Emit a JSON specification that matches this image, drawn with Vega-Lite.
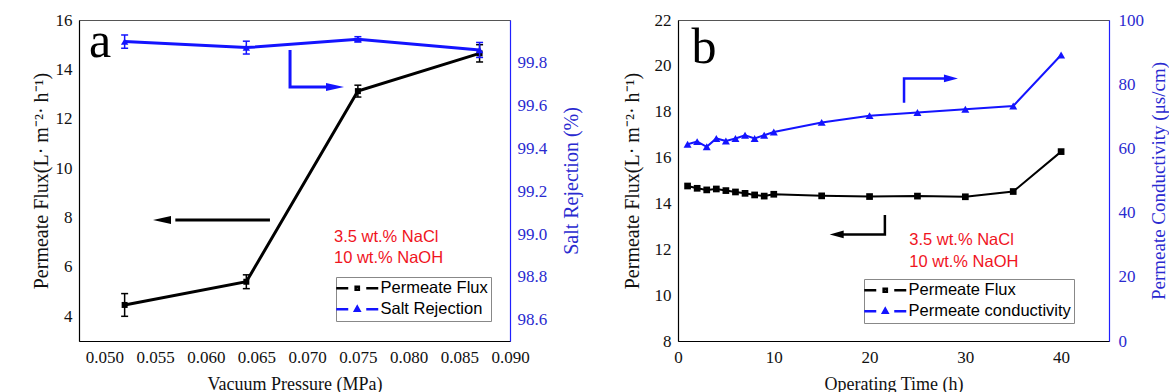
{
  "$schema": "https://vega.github.io/schema/vega-lite/v6.json",
  "padding": {"left": 30, "top": 10, "right": 0, "bottom": 0},
  "bounds": "flush",
  "spacing": 168,
  "background": "white",
  "config": {
    "view": {"stroke": "#555", "strokeWidth": 1},
    "axis": {"grid": false, "labelFont": "Liberation Serif", "titleFont": "Liberation Serif", "labelFontSize": 17, "titleFontSize": 20, "titleFontWeight": "normal", "labelColor": "#111", "titleColor": "#111", "domainColor": "#000", "tickColor": "#000", "domainWidth": 1.2, "tickWidth": 1.2, "tickSize": 0, "labelPadding": 7, "labelOverlap": false, "labelFlush": false},
    "legend": {"orient": "none", "labelFont": "Liberation Sans", "labelFontSize": 16.5, "labelColor": "#000", "strokeColor": "#888", "fillColor": "white", "padding": 3, "rowPadding": 4, "symbolSize": 64, "symbolOffset": 10, "labelOffset": 15, "labelLimit": 400, "symbolStrokeWidth": 2.5, "symbolOpacity": 1}
  },
  "datasets": {
    "a_flux": [{"p": 0.052, "flux": 4.46, "lo": 4.0, "hi": 4.92}, {"p": 0.064, "flux": 5.4, "lo": 5.12, "hi": 5.68}, {"p": 0.075, "flux": 13.12, "lo": 12.88, "hi": 13.36}, {"p": 0.087, "flux": 14.65, "lo": 14.3, "hi": 15.0}],
    "a_rej": [{"p": 0.052, "rej": 99.899, "lo": 99.868, "hi": 99.93}, {"p": 0.064, "rej": 99.871, "lo": 99.841, "hi": 99.901}, {"p": 0.075, "rej": 99.91, "lo": 99.898, "hi": 99.922}, {"p": 0.087, "rej": 99.86, "lo": 99.825, "hi": 99.895}],
    "a_arrow_black": [{"p": 0.06633, "flux": 7.9, "i": 0}, {"p": 0.057, "flux": 7.9, "i": 1}],
    "a_head_black": [{"p": 0.0548, "flux": 7.9}],
    "a_arrow_blue": [{"p": 0.06831, "rej": 99.86, "i": 0}, {"p": 0.06831, "rej": 99.687, "i": 1}, {"p": 0.072, "rej": 99.687, "i": 2}],
    "a_head_blue": [{"p": 0.07363, "rej": 99.687}],
    "a_letter": [{"p": 0.04848, "flux": 14.5, "label": "a"}],
    "a_note": [{"p": 0.07264, "flux": 7.21, "label": "3.5 wt.% NaCl"}, {"p": 0.07264, "flux": 6.36, "label": "10 wt.% NaOH"}],
    "b_run": [
      {"t": 1, "flux": 14.76, "cond": 61.3}, {"t": 2, "flux": 14.66, "cond": 62.1}, {"t": 3, "flux": 14.59, "cond": 60.5},
      {"t": 4, "flux": 14.63, "cond": 63.1}, {"t": 5, "flux": 14.56, "cond": 62.3}, {"t": 6, "flux": 14.5, "cond": 63.1},
      {"t": 7, "flux": 14.44, "cond": 64.1}, {"t": 8, "flux": 14.37, "cond": 63.1}, {"t": 9, "flux": 14.32, "cond": 64.1},
      {"t": 10, "flux": 14.4, "cond": 65.1}, {"t": 15, "flux": 14.33, "cond": 68.1}, {"t": 20, "flux": 14.3, "cond": 70.2},
      {"t": 25, "flux": 14.32, "cond": 71.2}, {"t": 30, "flux": 14.29, "cond": 72.2}, {"t": 35, "flux": 14.52, "cond": 73.2},
      {"t": 40, "flux": 16.26, "cond": 89.1}
    ],
    "b_arrow_black": [{"t": 21.6, "flux": 13.5, "i": 0}, {"t": 21.6, "flux": 12.65, "i": 1}, {"t": 17.0, "flux": 12.65, "i": 2}],
    "b_head_black": [{"t": 15.84, "flux": 12.65}],
    "b_arrow_blue": [{"t": 23.6, "cond": 74.2, "i": 0}, {"t": 23.6, "cond": 81.8, "i": 1}, {"t": 28.0, "cond": 81.8, "i": 2}],
    "b_head_blue": [{"t": 29.23, "cond": 81.8}],
    "b_letter": [{"t": 1.41, "flux": 20.11, "label": "b"}],
    "b_note": [{"t": 24.15, "flux": 12.41, "label": "3.5 wt.% NaCl"}, {"t": 24.15, "flux": 11.46, "label": "10 wt.% NaOH"}]
  },
  "hconcat": [
    {
      "width": 431,
      "height": 321,
      "encoding": {
        "x": {"field": "p", "type": "quantitative", "scale": {"domain": [0.0475, 0.09], "nice": false, "zero": false},
          "axis": {"title": "Vacuum Pressure (MPa)", "titleFontSize": 18, "values": [0.05, 0.0525, 0.055, 0.0575, 0.06, 0.0625, 0.065, 0.0675, 0.07, 0.0725, 0.075, 0.0775, 0.08, 0.0825, 0.085, 0.0875, 0.09], "format": ".3f",
            "labelExpr": "round(datum.value*1000) % 5 === 0 ? datum.label : ''",
            "encode": {"ticks": {"y2": {"condition": {"test": "round(datum.value*1000) % 5 === 0", "value": -5}, "value": -3}}},
            "labelPadding": 8, "titleY": 48, "titleBaseline": "alphabetic"}}
      },
      "layer": [
        {
          "encoding": {"y": {"field": "flux", "type": "quantitative", "scale": {"domain": [3, 16], "nice": false, "zero": false},
            "axis": {"orient": "left", "title": "Permeate Flux(L· m⁻²· h⁻¹)", "values": [4, 5, 6, 7, 8, 9, 10, 11, 12, 13, 14, 15, 16],
              "labelExpr": "datum.value % 2 === 0 ? datum.label : ''",
              "encode": {"ticks": {"x2": {"condition": {"test": "datum.value % 2 === 0", "value": 5}, "value": 3}}},
              "titleAngle": -90, "titleX": -32, "titleY": 160.5, "titleAlign": "center", "titleBaseline": "alphabetic"}}},
          "layer": [
            {"data": {"name": "a_flux"}, "mark": {"type": "rule", "color": "#000", "strokeWidth": 1.5}, "encoding": {"y": {"field": "lo", "type": "quantitative"}, "y2": {"field": "hi"}}},
            {"data": {"name": "a_flux"}, "mark": {"type": "tick", "orient": "horizontal", "color": "#000", "size": 7, "thickness": 1.5, "opacity": 1}, "encoding": {"y": {"field": "lo", "type": "quantitative"}}},
            {"data": {"name": "a_flux"}, "mark": {"type": "tick", "orient": "horizontal", "color": "#000", "size": 7, "thickness": 1.5, "opacity": 1}, "encoding": {"y": {"field": "hi", "type": "quantitative"}}},
            {"data": {"name": "a_flux"}, "mark": {"type": "line", "strokeWidth": 3, "color": "#000"}},
            {"data": {"name": "a_flux"}, "mark": {"type": "point", "shape": "square", "filled": true, "size": 36, "color": "#000", "opacity": 1}},
            {"data": {"name": "a_arrow_black"}, "mark": {"type": "line", "strokeWidth": 3, "color": "#000", "strokeCap": "butt", "strokeJoin": "miter"}, "encoding": {"order": {"field": "i"}}},
            {"data": {"name": "a_head_black"}, "mark": {"type": "point", "shape": "M0,0L2,-0.45L2,0.45Z", "size": 324, "filled": true, "color": "#000", "opacity": 1}},
            {"data": {"name": "a_letter"}, "mark": {"type": "text", "font": "Liberation Serif", "fontSize": 50, "align": "left", "baseline": "alphabetic", "color": "#000"}, "encoding": {"text": {"field": "label"}}},
            {"data": {"name": "a_note"}, "mark": {"type": "text", "font": "Liberation Sans", "fontSize": 16.5, "align": "left", "baseline": "middle", "color": "#f0141e"}, "encoding": {"text": {"field": "label"}}},
            {"data": {"values": []}, "mark": {"type": "point", "filled": false, "strokeWidth": 2.5, "opacity": 1},
              "encoding": {
                "color": {"field": "series", "type": "nominal", "scale": {"domain": ["Permeate Flux", "Salt Rejection"], "range": ["#000000", "#1414ff"]},
                  "legend": {"title": null, "orient": "none", "legendX": 257, "legendY": 257}},
                "shape": {"field": "series", "type": "nominal", "scale": {"domain": ["Permeate Flux", "Salt Rejection"], "range": ["M-5.25,0H-2.25M2.25,0H5.25M-0.4,-0.4H0.4V0.4H-0.4Z", "M-5.25,0H-2.25M2.25,0H5.25M0,-0.6L0.55,0.4H-0.55Z"]},
                  "legend": {"title": null, "orient": "none", "legendX": 257, "legendY": 257}}}}
          ]
        },
        {
          "encoding": {"y": {"field": "rej", "type": "quantitative", "scale": {"domain": [98.5, 100], "nice": false, "zero": false},
            "axis": {"orient": "right", "title": "Salt Rejection (%)", "values": [98.6, 98.7, 98.8, 98.9, 99.0, 99.1, 99.2, 99.3, 99.4, 99.5, 99.6, 99.7, 99.8, 99.9], "format": ".1f",
              "labelExpr": "round(datum.value*10) % 2 === 0 ? datum.label : ''",
              "encode": {"ticks": {"x2": {"condition": {"test": "round(datum.value*10) % 2 === 0", "value": -5}, "value": -3}}},
              "domainColor": "#2020ff", "tickColor": "#2020ff", "labelColor": "#2a2ad0", "titleColor": "#2a2ad0",
              "titleAngle": -90, "titleX": 67, "titleY": 160.5, "titleAlign": "center", "titleBaseline": "alphabetic"}}},
          "layer": [
            {"data": {"name": "a_rej"}, "mark": {"type": "rule", "color": "#1414ff", "strokeWidth": 1.5}, "encoding": {"y": {"field": "lo", "type": "quantitative"}, "y2": {"field": "hi"}}},
            {"data": {"name": "a_rej"}, "mark": {"type": "tick", "orient": "horizontal", "color": "#1414ff", "size": 7, "thickness": 1.5, "opacity": 1}, "encoding": {"y": {"field": "lo", "type": "quantitative"}}},
            {"data": {"name": "a_rej"}, "mark": {"type": "tick", "orient": "horizontal", "color": "#1414ff", "size": 7, "thickness": 1.5, "opacity": 1}, "encoding": {"y": {"field": "hi", "type": "quantitative"}}},
            {"data": {"name": "a_rej"}, "mark": {"type": "line", "strokeWidth": 3, "color": "#1414ff"}},
            {"data": {"name": "a_rej"}, "mark": {"type": "point", "shape": "triangle-up", "filled": true, "size": 55, "color": "#1414ff", "opacity": 1}},
            {"data": {"name": "a_arrow_blue"}, "mark": {"type": "line", "strokeWidth": 3, "color": "#1414ff", "strokeCap": "butt", "strokeJoin": "miter"}, "encoding": {"order": {"field": "i"}}},
            {"data": {"name": "a_head_blue"}, "mark": {"type": "point", "shape": "M0,0L-2,-0.45L-2,0.45Z", "size": 324, "filled": true, "color": "#1414ff", "opacity": 1}}
          ]
        }
      ],
      "resolve": {"scale": {"y": "independent"}}
    },
    {
      "width": 431,
      "height": 321,
      "encoding": {
        "x": {"field": "t", "type": "quantitative", "scale": {"domain": [0, 45], "nice": false, "zero": false},
          "axis": {"title": "Operating Time (h)", "titleFontSize": 18, "values": [0, 5, 10, 15, 20, 25, 30, 35, 40],
            "labelExpr": "datum.value % 10 === 0 ? datum.label : ''",
            "encode": {"ticks": {"y2": {"condition": {"test": "datum.value % 10 === 0", "value": -5}, "value": -3}}},
            "labelPadding": 8, "titleY": 48, "titleBaseline": "alphabetic"}}
      },
      "layer": [
        {
          "encoding": {"y": {"field": "flux", "type": "quantitative", "scale": {"domain": [8, 22], "nice": false, "zero": false},
            "axis": {"orient": "left", "title": "Permeate Flux(L· m⁻²· h⁻¹)", "values": [8, 9, 10, 11, 12, 13, 14, 15, 16, 17, 18, 19, 20, 21, 22],
              "labelExpr": "datum.value % 2 === 0 ? datum.label : ''",
              "encode": {"ticks": {"x2": {"condition": {"test": "datum.value % 2 === 0", "value": 5}, "value": 3}}},
              "titleAngle": -90, "titleX": -40, "titleY": 160.5, "titleAlign": "center", "titleBaseline": "alphabetic"}}},
          "layer": [
            {"data": {"name": "b_run"}, "mark": {"type": "line", "strokeWidth": 2, "color": "#000"}},
            {"data": {"name": "b_run"}, "mark": {"type": "point", "shape": "square", "filled": true, "size": 45, "color": "#000", "opacity": 1}},
            {"data": {"name": "b_arrow_black"}, "mark": {"type": "line", "strokeWidth": 2.5, "color": "#000", "strokeCap": "butt", "strokeJoin": "miter"}, "encoding": {"order": {"field": "i"}}},
            {"data": {"name": "b_head_black"}, "mark": {"type": "point", "shape": "M0,0L2,-0.56L2,0.56Z", "size": 196, "filled": true, "color": "#000", "opacity": 1}},
            {"data": {"name": "b_letter"}, "mark": {"type": "text", "font": "Liberation Serif", "fontSize": 50, "align": "left", "baseline": "alphabetic", "color": "#000"}, "encoding": {"text": {"field": "label"}}},
            {"data": {"name": "b_note"}, "mark": {"type": "text", "font": "Liberation Sans", "fontSize": 16.5, "align": "left", "baseline": "middle", "color": "#f0141e"}, "encoding": {"text": {"field": "label"}}},
            {"data": {"values": []}, "mark": {"type": "point", "filled": false, "strokeWidth": 2.5, "opacity": 1},
              "encoding": {
                "color": {"field": "series", "type": "nominal", "scale": {"domain": ["Permeate Flux", "Permeate conductivity"], "range": ["#000000", "#1414ff"]},
                  "legend": {"title": null, "orient": "none", "legendX": 186, "legendY": 259}},
                "shape": {"field": "series", "type": "nominal", "scale": {"domain": ["Permeate Flux", "Permeate conductivity"], "range": ["M-5.25,0H-2.25M2.25,0H5.25M-0.4,-0.4H0.4V0.4H-0.4Z", "M-5.25,0H-2.25M2.25,0H5.25M0,-0.6L0.55,0.4H-0.55Z"]},
                  "legend": {"title": null, "orient": "none", "legendX": 186, "legendY": 259}}}}
          ]
        },
        {
          "encoding": {"y": {"field": "cond", "type": "quantitative", "scale": {"domain": [0, 100], "nice": false, "zero": false},
            "axis": {"orient": "right", "title": "Permeate Conductivity (μs/cm)", "titleFontSize": 19, "values": [0, 10, 20, 30, 40, 50, 60, 70, 80, 90, 100],
              "labelExpr": "datum.value % 20 === 0 ? datum.label : ''",
              "encode": {"ticks": {"x2": {"condition": {"test": "datum.value % 20 === 0", "value": -5}, "value": -3}}},
              "labelPadding": 9,
              "domainColor": "#2020ff", "tickColor": "#2020ff", "labelColor": "#2a2ad0", "titleColor": "#2a2ad0",
              "titleAngle": -90, "titleX": 55, "titleY": 160.5, "titleAlign": "center", "titleBaseline": "alphabetic"}}},
          "layer": [
            {"data": {"name": "b_run"}, "mark": {"type": "line", "strokeWidth": 2, "color": "#1414ff"}},
            {"data": {"name": "b_run"}, "mark": {"type": "point", "shape": "triangle-up", "filled": true, "size": 64, "color": "#1414ff", "opacity": 1}},
            {"data": {"name": "b_arrow_blue"}, "mark": {"type": "line", "strokeWidth": 2.5, "color": "#1414ff", "strokeCap": "butt", "strokeJoin": "miter"}, "encoding": {"order": {"field": "i"}}},
            {"data": {"name": "b_head_blue"}, "mark": {"type": "point", "shape": "M0,0L-2,-0.56L-2,0.56Z", "size": 196, "filled": true, "color": "#1414ff", "opacity": 1}}
          ]
        }
      ],
      "resolve": {"scale": {"y": "independent"}}
    }
  ],
  "resolve": {"scale": {"color": "independent", "shape": "independent"}, "legend": {"color": "independent", "shape": "independent"}}
}
